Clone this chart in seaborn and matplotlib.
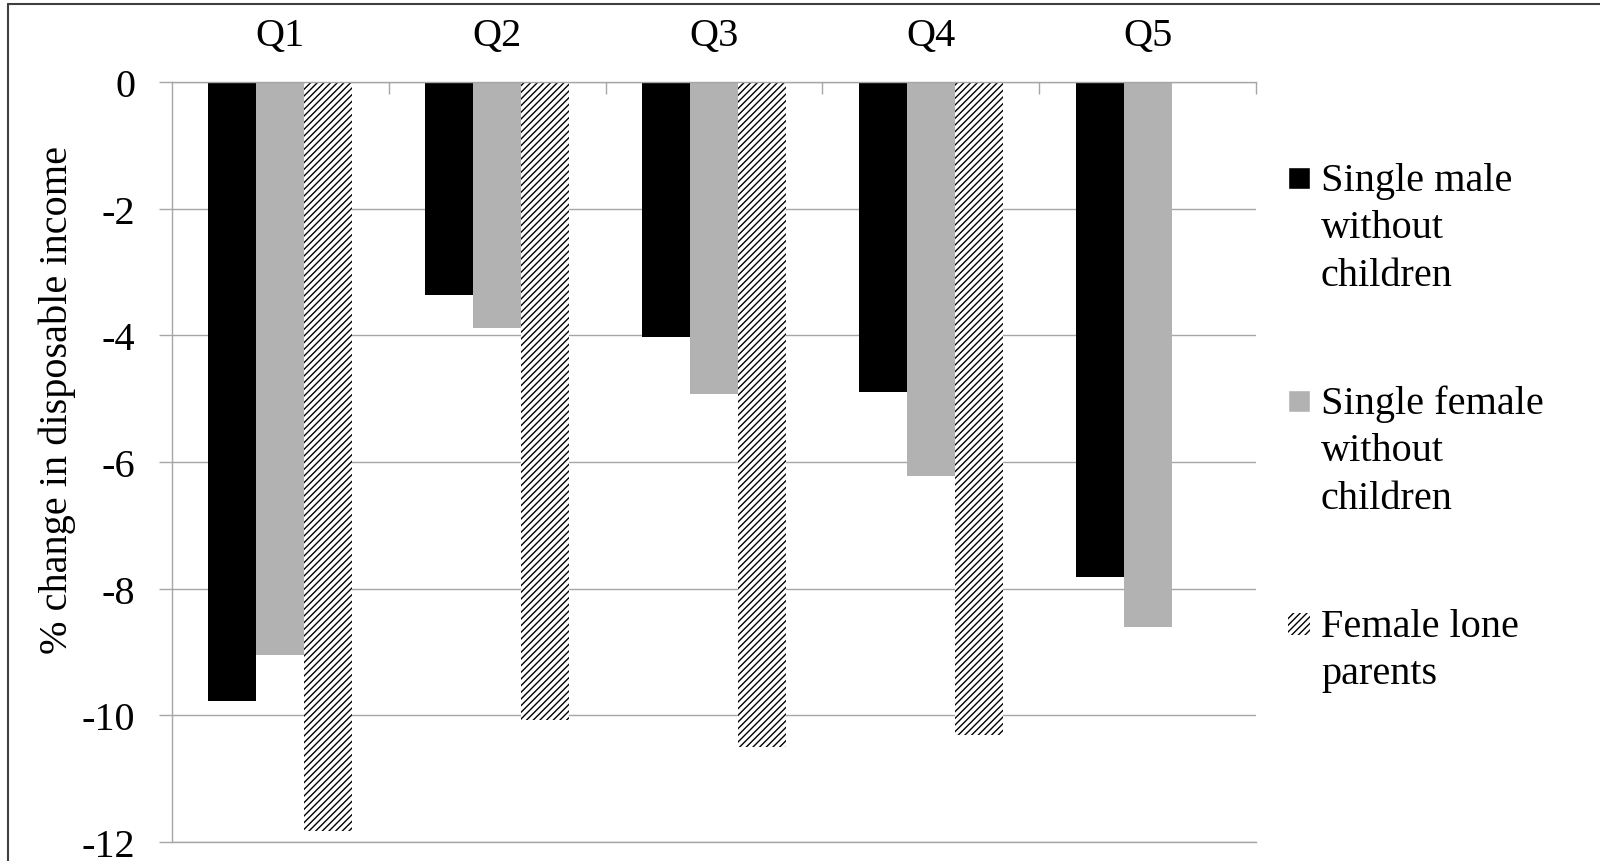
import numpy as np
import pandas as pd
import matplotlib
matplotlib.use("Agg")
import matplotlib.pyplot as plt
from matplotlib.patches import Rectangle
from matplotlib.lines import Line2D
import seaborn as sns

# Income quintiles and % change in disposable income per household type
quintiles = ["Q1", "Q2", "Q3", "Q4", "Q5"]
single_male = [-9.78, -3.36, -4.03, -4.89, -7.81]
single_female = [-9.05, -3.88, -4.92, -6.22, -8.60]
female_lone_parents = [-11.82, -10.08, -10.50, -10.31, np.nan]
groups = ["Single male without children",
          "Single female without children",
          "Female lone parents"]
legend_lines = [["Single male", "without", "children"],
                ["Single female", "without", "children"],
                ["Female lone", "parents"]]
y_ticks = [0, -2, -4, -6, -8, -10, -12]

df = pd.DataFrame({
    "quintile": quintiles * 3,
    "group": np.repeat(groups, len(quintiles)),
    "change": single_male + single_female + female_lone_parents,
})

sns.set_theme(style="white")
plt.rcParams["font.family"] = ["Liberation Serif", "DejaVu Serif"]
plt.rcParams["hatch.linewidth"] = 1.0
plt.rcParams["text.color"] = "black"
plt.rcParams["axes.labelcolor"] = "black"

W, H = 1600, 862
FS = 29
GRID = "#a6a6a6"
HATCH = "/////"

fig = plt.figure(figsize=(W / 100, H / 100), dpi=100)
ax = fig.add_axes([172 / W, 1 - 843 / H, (1256 - 172) / W, (843 - 83) / H])

colors = {groups[0]: "#000000", groups[1]: "#b2b2b2", groups[2]: "#ffffff"}
sns.barplot(data=df, x="quintile", y="change", hue="group",
            order=quintiles, hue_order=groups, palette=colors,
            width=0.664, saturation=1, errorbar=None, legend=False,
            linewidth=0, ax=ax)

# hatched fill for lone parents
for bar in ax.containers[2]:
    bar.set_hatch(HATCH)
    bar.set_edgecolor("black")
    bar.set_linewidth(0)

ax.set_ylim(-12, 0)
ax.set_xlim(-0.5, len(quintiles) - 0.5)
ax.set_yticks(y_ticks)
ax.set_yticklabels([str(t) for t in y_ticks])
ax.yaxis.grid(True, color=GRID, linewidth=1.0)
ax.xaxis.grid(False)
ax.set_axisbelow(True)

ax.spines["right"].set_visible(False)
for side in ["left", "top", "bottom"]:
    ax.spines[side].set_color(GRID)
    ax.spines[side].set_linewidth(1.0)

ax.tick_params(axis="y", which="major", left=True, direction="out",
               length=9.4, width=1.0, color=GRID, pad=17, labelsize=FS,
               labelcolor="black")

ax.xaxis.tick_top()
ax.set_xticks(range(len(quintiles)))
ax.set_xticklabels(quintiles)
ax.set_xticks([k + 0.5 for k in range(len(quintiles))], minor=True)
ax.tick_params(axis="x", which="major", top=True, bottom=False, length=0,
               pad=20, labelsize=FS, labelcolor="black")
ax.tick_params(axis="x", which="minor", top=True, bottom=False,
               direction="in", length=8.6, width=1.0, color=GRID)
ax.set_xlabel("")
ax.set_ylabel("")

fig.text(57 / W, 1 - 400 / H, "% change in disposable income",
         rotation=90, ha="center", va="center", fontsize=FS, color="black")

# legend: swatch beside the first line of each entry
swatch = [dict(facecolor="#000000"), dict(facecolor="#b2b2b2"),
          dict(facecolor="#ffffff", hatch=HATCH, edgecolor="black", linewidth=0)]
baselines = [191, 414, 637]
for lines, base, sw in zip(legend_lines, baselines, swatch):
    fig.add_artist(Rectangle((1288 / W, 1 - (base - 1) / H), 22 / W, 22 / H,
                             transform=fig.transFigure, **sw))
    for j, line in enumerate(lines):
        fig.text(1321 / W, 1 - (base + 47.5 * j) / H, line,
                 ha="left", va="baseline", fontsize=FS, color="black")

# outer frame (left and top edges)
fig.add_artist(Line2D([8 / W, 8 / W], [0, 1 - 5 / H], transform=fig.transFigure,
                      color="#404040", linewidth=1.5))
fig.add_artist(Line2D([8 / W, 1], [1 - 5 / H, 1 - 5 / H], transform=fig.transFigure,
                      color="#404040", linewidth=1.5))

fig.savefig("out.png", dpi=100, facecolor="white")
